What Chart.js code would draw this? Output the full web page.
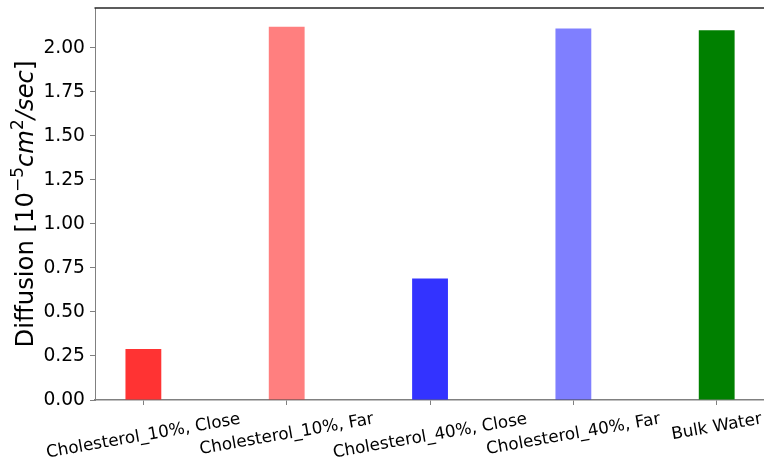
<!DOCTYPE html>
<html>
<head>
<meta charset="utf-8">
<script src="https://cdn.jsdelivr.net/npm/chart.js@4/dist/chart.umd.min.js"></script>
<style>
  html, body { margin: 0; padding: 0; background: #fff; overflow: hidden; }
  #wrap { width: 764px; height: 459px; }
</style>
</head>
<body>
<div id="wrap"><canvas id="c" width="764" height="459"></canvas></div>
<script>
// Diffusion coefficients per sample (units of 1e-5 cm^2/sec)
const categories = ['Cholesterol_10%, Close', 'Cholesterol_10%, Far', 'Cholesterol_40%, Close', 'Cholesterol_40%, Far', 'Bulk Water'];
const diffusion = [0.29, 2.12, 0.69, 2.11, 2.10];
const barColors = ['rgba(255,0,0,0.8)', 'rgba(255,0,0,0.5)', 'rgba(0,0,255,0.8)', 'rgba(0,0,255,0.5)', '#008000'];
const yTicks = [0, 0.25, 0.5, 0.75, 1.0, 1.25, 1.5, 1.75, 2.0];

const FONT = '"DejaVu Sans", sans-serif';
const AXIS_GRAY = '#808080';

// Axis title with superscripts and italic units, drawn vertically
const titleParts = [
  { t: 'Diffusion [10', it: false, sup: false },
  { t: '\u22125', it: false, sup: true },
  { t: 'cm', it: true, sup: false },
  { t: '2', it: false, sup: true },
  { t: '/sec', it: true, sup: false },
  { t: ']', it: false, sup: false }
];

const decorations = {
  id: 'decorations',
  afterDraw(chart) {
    const ctx = chart.ctx;
    const area = chart.chartArea;
    const xs = chart.scales.x;

    // top frame line
    ctx.save();
    ctx.strokeStyle = '#262626';
    ctx.lineWidth = 1.5;
    ctx.beginPath();
    ctx.moveTo(area.left - 0.5, area.top);
    ctx.lineTo(area.right + 2, area.top);
    ctx.stroke();
    ctx.restore();

    // rotated category labels, centred under each tick
    const fs = 16.8;
    const theta = 10 * Math.PI / 180;
    ctx.save();
    ctx.font = fs + 'px ' + FONT;
    ctx.fillStyle = '#000';
    ctx.textAlign = 'center';
    ctx.textBaseline = 'middle';
    const top = area.bottom + 5 + 4.5;
    categories.forEach((label, i) => {
      const px = xs.getPixelForValue(i);
      const w = ctx.measureText(label).width;
      const h = fs * 1.164;
      const H = w * Math.sin(theta) + h * Math.cos(theta);
      ctx.save();
      ctx.translate(px, top + H / 2);
      ctx.rotate(-theta);
      ctx.fillText(label, 0, 0);
      ctx.restore();
    });
    ctx.restore();

    // y-axis title
    const tfs = 24.3;
    const sfs = tfs * 0.7;
    ctx.save();
    ctx.fillStyle = '#000';
    ctx.textBaseline = 'alphabetic';
    ctx.textAlign = 'left';
    const fontFor = p => (p.it ? 'italic ' : '') + (p.sup ? sfs : tfs) + 'px ' + FONT;
    let total = 0;
    const widths = titleParts.map(p => {
      ctx.font = fontFor(p);
      const w = ctx.measureText(p.t).width;
      total += w;
      return w;
    });
    ctx.translate(33, (area.top + area.bottom) / 2);
    ctx.rotate(-Math.PI / 2);
    let x = -total / 2;
    titleParts.forEach((p, i) => {
      ctx.font = fontFor(p);
      ctx.fillText(p.t, x, p.sup ? -tfs * 0.42 : 0);
      x += widths[i];
    });
    ctx.restore();
  }
};

new Chart(document.getElementById('c'), {
  type: 'bar',
  data: {
    datasets: [{
      data: diffusion.map((v, i) => ({ x: i, y: v })),
      backgroundColor: barColors,
      borderWidth: 0,
      barPercentage: 0.25,
      categoryPercentage: 1.0
    }]
  },
  options: {
    responsive: false,
    animation: false,
    devicePixelRatio: 1,
    layout: { padding: { top: 8, left: 0, right: 0, bottom: 0 } },
    plugins: { legend: { display: false }, tooltip: { enabled: false } },
    scales: {
      x: {
        type: 'linear',
        offset: false,
        min: -0.3375,
        max: 4.33,
        afterBuildTicks: s => { s.ticks = categories.map((_, i) => ({ value: i })); },
        afterFit: s => { s.height = 59; s.paddingLeft = 0; s.paddingRight = 0; },
        ticks: { display: false },
        grid: { offset: false, drawOnChartArea: false, drawTicks: true, tickLength: 5, tickColor: AXIS_GRAY, tickWidth: 1 },
        border: { color: AXIS_GRAY, width: 1.5 }
      },
      y: {
        min: 0,
        max: 2.226,
        afterBuildTicks: s => { s.ticks = yTicks.map(v => ({ value: v })); },
        afterFit: s => { s.width = 95; s.paddingTop = 0; s.paddingBottom = 0; },
        ticks: {
          callback: v => Number(v).toFixed(2),
          font: { family: FONT, size: 18.7 },
          color: '#000',
          padding: 5
        },
        grid: { drawOnChartArea: false, drawTicks: true, tickLength: 5, tickColor: AXIS_GRAY, tickWidth: 1 },
        border: { color: AXIS_GRAY, width: 1 }
      }
    }
  },
  plugins: [decorations]
});
</script>
</body>
</html>
